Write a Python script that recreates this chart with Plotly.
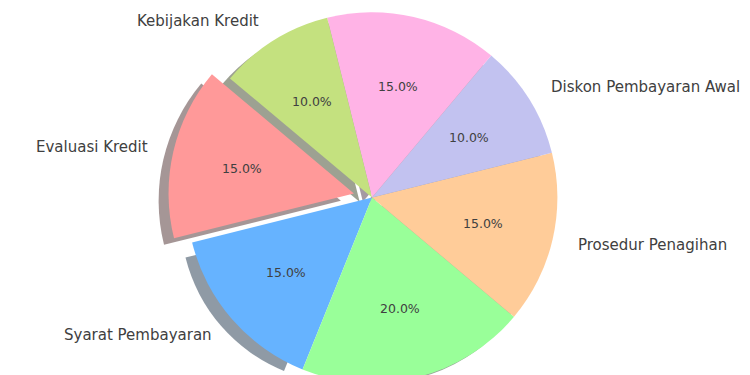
import numpy as np
import plotly.graph_objects as go

# ---- data ----
labels = ["Evaluasi Kredit", "Syarat Pembayaran", "Pemantauan Piutang",
          "Prosedur Penagihan", "Diskon Pembayaran Awal",
          "Jatuh Tempo Pembayaran", "Kebijakan Kredit"]
values = [15, 15, 20, 15, 10, 15, 10]
colors = ["#ff9999", "#66b3ff", "#99ff99", "#ffcc99", "#c2c2f0", "#ffb3e6", "#c4e17f"]
explode = [0.1, 0, 0, 0, 0, 0, 0]

# ---- geometry / style (figure pixels, from the figure's top-left corner) ----
W, H = 750, 375
START = 140              # start angle (deg, counter-clockwise from 3 o'clock)
R = 185.4                # pie radius
CX, CY = 364.0, 189.6    # pie centre
SDX, SDY = -10.0, 8.0    # shadow offset
TXT_CX, TXT_CY, TXT_R = 364.0, 190.0, 190.0   # geometry used for text placement
LABEL_DIST, PCT_DIST = 1.1, 0.6
FONT = "DejaVu Sans"
TXT = "#404040"

vals = np.array(values, dtype=float)
frac = vals / vals.sum()
starts = START + 360.0 * np.concatenate([[0.0], np.cumsum(frac)[:-1]])
mid_deg = starts + 180.0 * frac
mids = np.radians(mid_deg)
expl = np.array(explode, dtype=float)

# plotly: for counter-clockwise pies the first slice *ends* at `rotation`
ROTATION = 90 - START - 360.0 * frac[0]
N = len(values)
CLEAR = "rgba(0,0,0,0)"


def clamp(v):
    return float(min(1.0, max(0.0, v)))


def domain(cx, cy, r):
    return dict(x=[clamp((cx - r) / W), clamp((cx + r) / W)],
                y=[clamp(1 - (cy + r) / H), clamp(1 - (cy - r) / H)])


def hexrgb(c):
    c = c.lstrip("#")
    return [int(c[i:i + 2], 16) for i in (0, 2, 4)]


shadow_cols = ["rgba(%d,%d,%d,0.5)" % tuple(int(round(0.3 * v)) for v in hexrgb(c)) for c in colors]


def pie(cx, cy, r, cols, name):
    return go.Pie(values=values, labels=labels, name=name,
                  marker=dict(colors=cols, line=dict(width=0)),
                  sort=False, direction="counterclockwise", rotation=ROTATION,
                  textinfo="none", hoverinfo="skip", showlegend=False,
                  domain=domain(cx, cy, r))


def fitted(cx, cy, r, theta_deg):
    """Shrink a circle so it fits the canvas while keeping its arc near theta."""
    th = np.radians(theta_deg)
    s = max(np.sin(th), -0.6)
    c = np.sign(np.cos(th)) * np.sqrt(1 - s * s) if np.cos(th) != 0 else 0.0
    ob = max(0.0, cy + r - H)
    ot = max(0.0, r - cy)
    k = max(ob / (1 + s), ot / (1 - s) if s < 1 else 0.0)
    return cx + k * c, cy - k * s, r - k


def only(i, cols):
    return [cols[j] if j == i else CLEAR for j in range(N)]


# wedge centres (exploded wedges are translated along their mid angle)
wx = CX + expl * R * np.cos(mids)
wy = CY - expl * R * np.sin(mids)

fig = go.Figure()
# shadows: one trace per wedge, drawn below every wedge
for i in range(N):
    sx, sy, sr = fitted(wx[i] + SDX, wy[i] + SDY, R, mid_deg[i])
    fig.add_trace(pie(sx, sy, sr, only(i, shadow_cols), "shadow %d" % i))
# wedges that stay in place
fig.add_trace(pie(CX, CY, R, [CLEAR if expl[i] > 0 else colors[i] for i in range(N)], "pie"))
# exploded wedges
for i in range(N):
    if expl[i] > 0:
        fig.add_trace(pie(wx[i], wy[i], R, only(i, colors), "exploded %d" % i))

annotations = []
tx = TXT_CX + expl * TXT_R * np.cos(mids)
ty = TXT_CY - expl * TXT_R * np.sin(mids)
for i, lab in enumerate(labels):
    c, s = np.cos(mids[i]), np.sin(mids[i])
    lx, ly = tx[i] + LABEL_DIST * TXT_R * c, ty[i] - LABEL_DIST * TXT_R * s
    annotations.append(dict(x=lx / W, y=1 - ly / H, xref="paper", yref="paper",
                            text=lab, showarrow=False,
                            xanchor="left" if c > 0 else "right", yanchor="middle",
                            font=dict(family=FONT, size=15, color=TXT)))
    px, py = tx[i] + PCT_DIST * TXT_R * c, ty[i] - PCT_DIST * TXT_R * s
    annotations.append(dict(x=px / W, y=1 - py / H, xref="paper", yref="paper",
                            text="%.1f%%" % (100 * frac[i]), showarrow=False,
                            xanchor="center", yanchor="middle",
                            font=dict(family=FONT, size=12.5, color=TXT)))

fig.update_layout(width=W, height=H, margin=dict(l=0, r=0, t=0, b=0),
                  paper_bgcolor="white", plot_bgcolor="white",
                  showlegend=False, annotations=annotations,
                  font=dict(family=FONT, color=TXT))

fig.write_html("out.html")
